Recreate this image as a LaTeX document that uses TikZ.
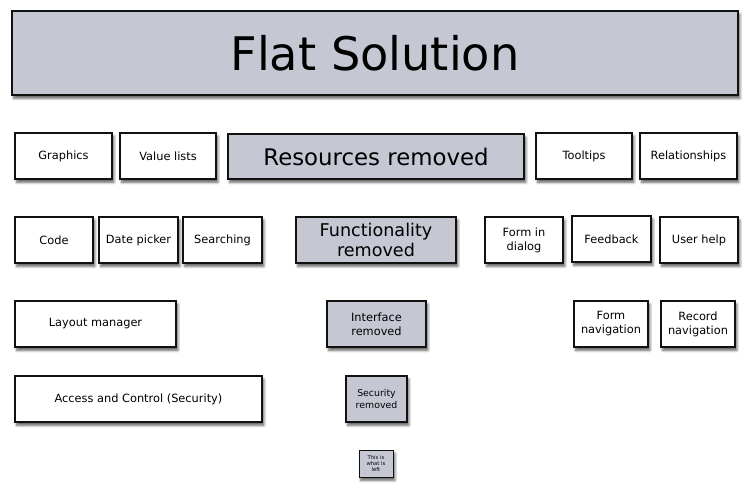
\documentclass[tikz,border=0pt]{standalone}
\usepackage{fontspec}
\setmainfont{DejaVu Sans}
\usepackage{tikz}
\usetikzlibrary{shadows,shadows.blur}
\definecolor{flatInk}{HTML}{111111}
\definecolor{flatGrey}{HTML}{C5C8D3}
\tikzset{
    box/.style={draw=flatInk, line width=0.9pt, fill=white, align=center, inner sep=0pt,
        font=\fontsize{9.7}{12}\selectfont,
        blur shadow={shadow xshift=1.6pt, shadow yshift=-2.8pt, shadow blur steps=6, shadow blur radius=2.2pt, shadow opacity=65}},
    removed/.style={box, fill=flatGrey},
    dims/.style 2 args={minimum width=#1, minimum height=#2}
}
\begin{document}
\begin{tikzpicture}[x=0.03cm, y=-0.03cm]
\useasboundingbox (0,0) rectangle (747,493);
% title
\node[removed, dims={21.78cm}{2.52cm}, font=\fontsize{39.5}{48}\selectfont] (title) at (375,53) {Flat Solution};
% row 1
\node[box, dims={2.91cm}{1.38cm}] (graphics) at (63.5,156) {Graphics};
\node[box, dims={2.88cm}{1.38cm}] (valuelists) at (168,156) {Value lists};
\node[removed, dims={8.88cm}{1.35cm}, font=\fontsize{19.5}{23}\selectfont] (resources) at (376,156.5) {Resources removed};
\node[box, dims={2.88cm}{1.38cm}] (tooltips) at (584,156) {Tooltips};
\node[box, dims={2.91cm}{1.38cm}] (relationships) at (688.5,156) {Relationships};
% row 2
\node[box, dims={2.34cm}{1.38cm}] (code) at (54,240) {Code};
\node[box, dims={2.37cm}{1.38cm}] (datepicker) at (138.5,240) {Date picker};
\node[box, dims={2.37cm}{1.38cm}] (searching) at (222.5,240) {Searching};
\node[removed, dims={4.8cm}{1.38cm}, font=\fontsize{15}{17}\selectfont] (functionality) at (376,240) {Functionality\\removed};
\node[box, dims={2.34cm}{1.38cm}] (formdialog) at (524,240) {Form in\\dialog};
\node[box, dims={2.37cm}{1.38cm}] (feedback) at (611.5,239) {Feedback};
\node[box, dims={2.34cm}{1.38cm}] (userhelp) at (699,240) {User help};
% row 3
\node[box, dims={4.83cm}{1.38cm}] (layout) at (95.5,324) {Layout manager};
\node[removed, dims={2.97cm}{1.38cm}] (interface) at (376.5,324) {Interface\\removed};
\node[box, dims={2.22cm}{1.38cm}] (formnav) at (611,324) {Form\\navigation};
\node[box, dims={2.22cm}{1.38cm}] (recordnav) at (698,324) {Record\\navigation};
% row 4
\node[box, dims={7.41cm}{1.38cm}] (access) at (138.5,399) {Access and Control (Security)};
\node[removed, dims={1.83cm}{1.38cm}, font=\fontsize{8}{10}\selectfont] (security) at (376.5,399) {Security\\removed};
% what is left
\node[removed, dims={1.02cm}{0.81cm}, line width=0.7pt, font=\fontsize{4.5}{5.5}\selectfont] (left) at (376,463.5) {This is\\what is\\left};
\end{tikzpicture}
\end{document}
